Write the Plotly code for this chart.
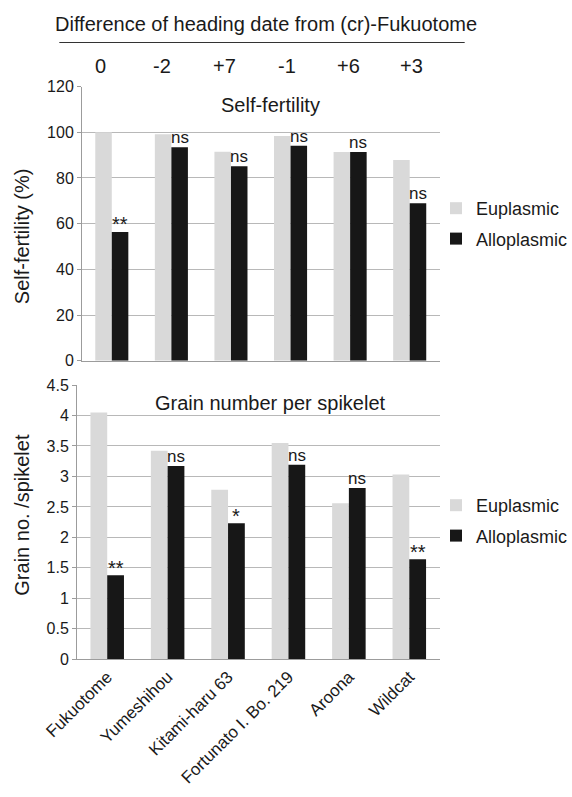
import plotly.graph_objects as go

# ---------------- data ----------------
cultivars = ["Fukuotome", "Yumeshihou", "Kitami-haru 63", "Fortunato I. Bo. 219", "Aroona", "Wildcat"]
heading_diff = ["0", "-2", "+7", "-1", "+6", "+3"]

fert_eu = [100.0, 99.1, 91.5, 98.4, 91.4, 87.9]
fert_allo = [56.3, 93.4, 85.1, 94.1, 91.4, 68.9]
fert_sig = ["**", "ns", "ns", "ns", "ns", "ns"]

grain_eu = [4.05, 3.42, 2.78, 3.55, 2.56, 3.03]
grain_allo = [1.38, 3.17, 2.23, 3.19, 2.81, 1.64]
grain_sig = ["**", "ns", "*", "ns", "ns", "**"]

# ---------------- style ----------------
W, H = 572, 797
FONT = "Liberation Sans, Arial, sans-serif"
EU_COLOR = "#d9d9d9"
ALLO_COLOR = "#171717"
GRID = "#b8b8b8"
AXIS = "#9c9c9c"
TXT = "#1a1a1a"
BARGAP = 0.445


def px_x(p):
    return p / W


def px_y(p):
    return 1 - p / H


fig = go.Figure()

fig.add_trace(go.Bar(x=cultivars, y=fert_eu, name="Euplasmic", marker_color=EU_COLOR,
                     xaxis="x", yaxis="y", legend="legend", legendgroup="e1"))
fig.add_trace(go.Bar(x=cultivars, y=fert_allo, name="Alloplasmic", marker_color=ALLO_COLOR,
                     xaxis="x", yaxis="y", legend="legend", legendgroup="a1"))
fig.add_trace(go.Bar(x=cultivars, y=grain_eu, name="Euplasmic", marker_color=EU_COLOR,
                     xaxis="x2", yaxis="y2", legend="legend2", legendgroup="e2"))
fig.add_trace(go.Bar(x=cultivars, y=grain_allo, name="Alloplasmic", marker_color=ALLO_COLOR,
                     xaxis="x2", yaxis="y2", legend="legend2", legendgroup="a2"))

for tr in fig.data:
    tr.marker.line.width = 0

annotations = []
offset = (1 - BARGAP) / 4
for i, s in enumerate(fert_sig):
    annotations.append(dict(x=i + offset, y=fert_allo[i], xref="x", yref="y", text=s,
                            showarrow=False, yanchor="bottom", xanchor="center",
                            font=dict(size=20 if "*" in s else 17, color=TXT, family=FONT),
                            yshift=-2 if "*" not in s else -5))
for i, s in enumerate(grain_sig):
    annotations.append(dict(x=i + offset, y=grain_allo[i], xref="x2", yref="y2", text=s,
                            showarrow=False, yanchor="bottom", xanchor="center",
                            font=dict(size=20 if "*" in s else 17, color=TXT, family=FONT),
                            yshift=-2 if "*" not in s else -6))

annotations.append(dict(x=px_x(266), y=px_y(23.6), xref="paper", yref="paper",
                        text="Difference of heading date from (cr)-Fukuotome", showarrow=False,
                        xanchor="center", yanchor="middle", font=dict(size=20, color=TXT, family=FONT)))
for i, d in enumerate(heading_diff):
    annotations.append(dict(x=px_x(100 + i * 62.2), y=px_y(65.5), xref="paper", yref="paper",
                            text=d, showarrow=False, xanchor="center", yanchor="middle",
                            font=dict(size=20, color=TXT, family=FONT)))

annotations.append(dict(x=px_x(270), y=px_y(105), xref="paper", yref="paper", text="Self-fertility",
                        showarrow=False, xanchor="center", yanchor="middle",
                        font=dict(size=20, color=TXT, family=FONT)))
annotations.append(dict(x=px_x(270), y=px_y(403), xref="paper", yref="paper",
                        text="Grain number per spikelet", showarrow=False, xanchor="center",
                        yanchor="middle", font=dict(size=20, color=TXT, family=FONT)))

annotations.append(dict(x=px_x(21.7), y=px_y(236.5), xref="paper", yref="paper",
                        text="Self-fertility (%)", textangle=-90, showarrow=False,
                        xanchor="center", yanchor="middle", font=dict(size=20, color=TXT, family=FONT)))
annotations.append(dict(x=px_x(21.7), y=px_y(515), xref="paper", yref="paper",
                        text="Grain no. /spikelet", textangle=-90, showarrow=False,
                        xanchor="center", yanchor="middle", font=dict(size=20, color=TXT, family=FONT)))

axis_common = dict(showline=True, linecolor=AXIS, linewidth=1, zeroline=False, automargin=False)

fig.update_layout(
    width=W, height=H,
    autosize=False,
    margin=dict(l=0, r=0, t=0, b=0, pad=0, autoexpand=False),
    paper_bgcolor="white", plot_bgcolor="white",
    font=dict(family=FONT, color=TXT, size=16),
    barmode="group", bargap=BARGAP, bargroupgap=0,
    xaxis=dict(domain=[px_x(82), px_x(439.5)], anchor="y", showticklabels=False, ticks="",
               showgrid=False, **axis_common),
    yaxis=dict(domain=[px_y(360.7), px_y(86.6)], anchor="x", range=[0, 120], dtick=20,
               ticks="outside", ticklen=4, tickcolor=AXIS, showgrid=True, gridcolor=GRID,
               tickfont=dict(size=16, color=TXT), **axis_common),
    xaxis2=dict(domain=[px_x(77), px_x(439.5)], anchor="y2", ticks="", showgrid=False,
                tickangle=-45, tickfont=dict(size=17, color=TXT), **axis_common),
    yaxis2=dict(domain=[px_y(659.3), px_y(385)], anchor="x2", range=[0, 4.5], dtick=0.5,
                ticks="outside", ticklen=4, tickcolor=AXIS, showgrid=True, gridcolor=GRID,
                tickfont=dict(size=16, color=TXT), **axis_common),
    legend=dict(x=px_x(436), y=px_y(190), xanchor="left", yanchor="top",
                font=dict(size=18, color=TXT, family=FONT), tracegroupgap=4,
                bgcolor="rgba(0,0,0,0)"),
    legend2=dict(x=px_x(436), y=px_y(487), xanchor="left", yanchor="top",
                 font=dict(size=18, color=TXT, family=FONT), tracegroupgap=4,
                 bgcolor="rgba(0,0,0,0)"),
    annotations=annotations,
    shapes=[dict(type="line", xref="paper", yref="paper", x0=px_x(59.3), x1=px_x(464.7),
                 y0=px_y(42.5), y1=px_y(42.5), line=dict(color="#333333", width=1))],
    showlegend=True,
)

# remove the browser's default 8px body margin so the figure sits at the page origin
fig.write_html("out.html", config={"displayModeBar": False},
               post_script="document.body.style.margin='0';")
